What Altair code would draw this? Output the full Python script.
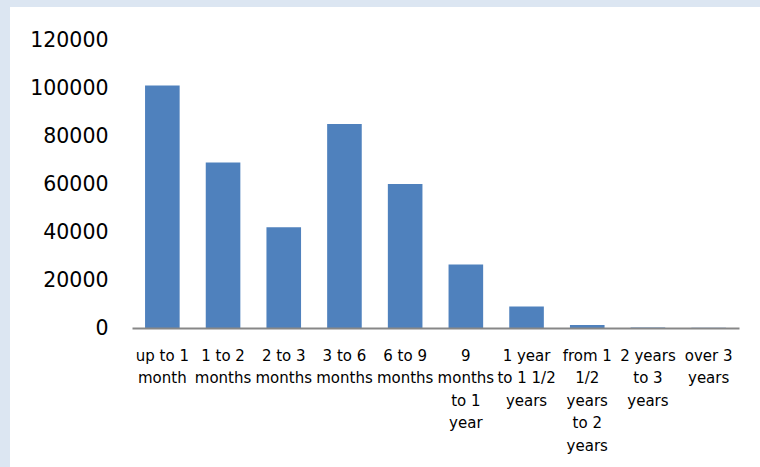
import altair as alt
import pandas as pd

# Duration groups (label lines) and counts per group
label_lines = [
    ["up to 1", "month"],
    ["1 to 2", "months"],
    ["2 to 3", "months"],
    ["3 to 6", "months"],
    ["6 to 9", "months"],
    ["9", "months", "to 1", "year"],
    ["1 year", "to 1 1/2", "years"],
    ["from 1", "1/2", "years", "to 2", "years"],
    ["2 years", "to 3", "years"],
    ["over 3", "years"],
]
counts = [101000, 69000, 42000, 85000, 60000, 26500, 9000, 1200, 200, 100]
y_ticks = [0, 20000, 40000, 60000, 80000, 100000, 120000]

categories = ["|".join(lines) for lines in label_lines]
df = pd.DataFrame({"period": categories, "count": counts})

FONT = "DejaVu Sans"

# white chart panel over the pale blue frame
panel = alt.Chart(pd.DataFrame({"k": [0]})).mark_rect(color="white").encode(
    x=alt.value(-122), x2=alt.value(640), y=alt.value(-33), y2=alt.value(440)
)

bars = alt.Chart(df).mark_bar(color="#4F81BD").encode(
    x=alt.X(
        "period:N",
        sort=categories,
        title=None,
        scale=alt.Scale(paddingInner=0.43, paddingOuter=0.215),
        axis=alt.Axis(
            labelAngle=0,
            labelExpr="split(datum.value, '|')",
            labelFont=FONT,
            labelFontSize=15,
            labelColor="black",
            labelLineHeight=22.5,
            labelPadding=32,
            labelBaseline="alphabetic",
            labelOverlap=False,
            ticks=False,
            domainColor="#878787",
            domainWidth=2,
            grid=False,
            zindex=1,
        ),
    ),
    y=alt.Y(
        "count:Q",
        title=None,
        scale=alt.Scale(domain=[0, 120000], nice=False),
        axis=alt.Axis(
            values=y_ticks,
            format="d",
            labelFont=FONT,
            labelFontSize=20.5,
            labelColor="black",
            labelPadding=24,
            ticks=False,
            domain=False,
            grid=False,
            zindex=1,
        ),
    ),
)

chart = (
    alt.layer(panel, bars)
    .properties(
        width=607,
        height=288,
        background="#DCE6F2",
        padding={"left": 132, "top": 40, "right": 21, "bottom": 139},
        autosize=alt.AutoSizeParams(type="none"),
    )
    .configure_view(stroke=None)
)

chart.save("out.html", embed_options={"renderer": "svg", "actions": False})
